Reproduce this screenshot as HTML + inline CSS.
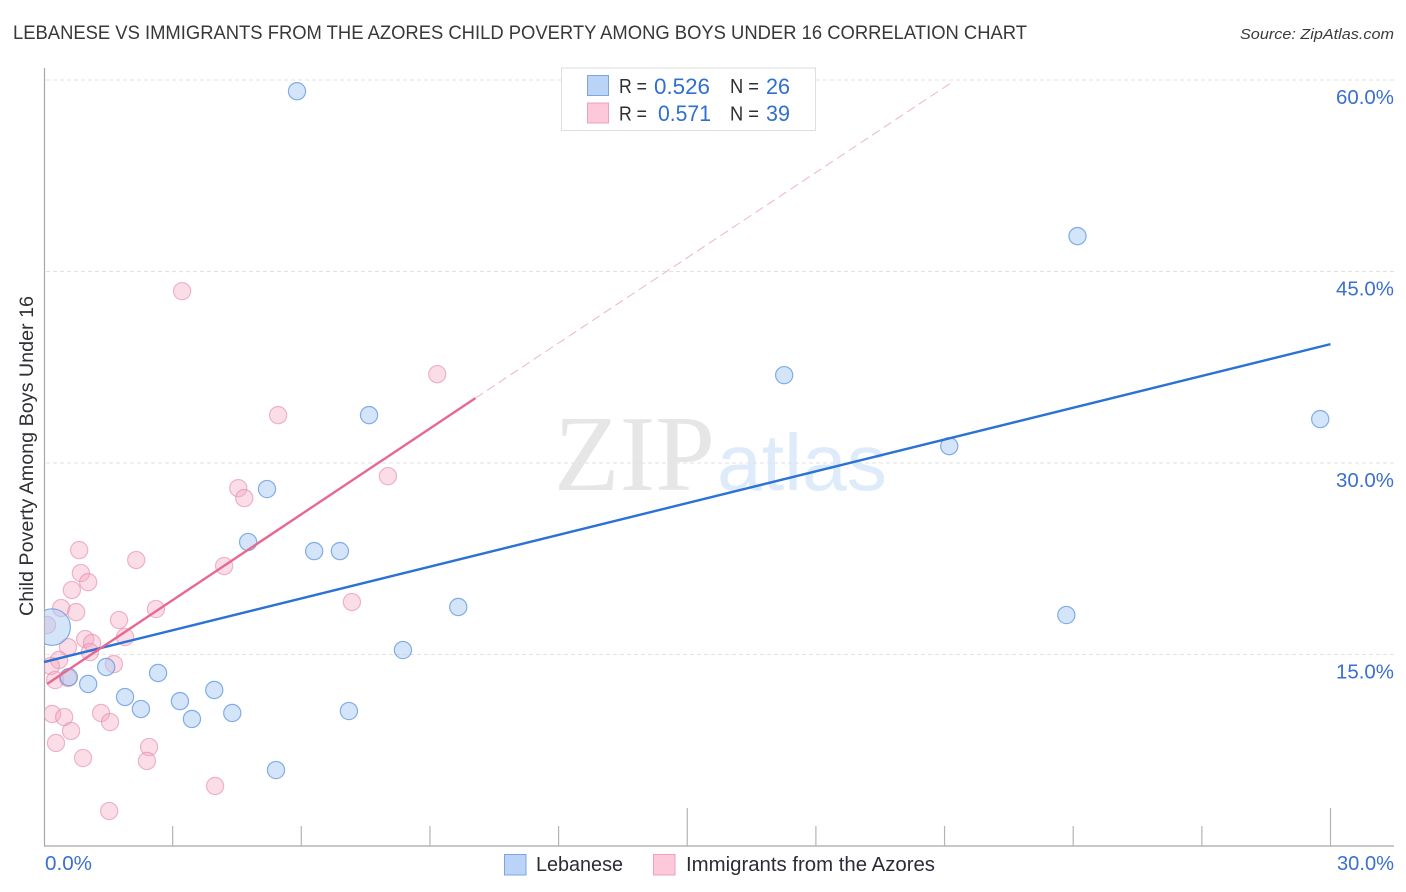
<!DOCTYPE html>
<html lang="en">
<head>
<meta charset="utf-8">
<title>Lebanese vs Immigrants from the Azores Child Poverty Correlation Chart</title>
<style>
  html, body { margin: 0; padding: 0; background: #fff; }
  body { width: 1406px; height: 892px; overflow: hidden; }
  svg { display: block; font-family: "Liberation Sans", sans-serif; }
</style>
</head>
<body>
<svg id="chart" xmlns="http://www.w3.org/2000/svg" width="1406" height="892" viewBox="0 0 1406 892">
  <defs>
    <clipPath id="plot-clip"><rect x="44.5" y="60" width="1350" height="786"></rect></clipPath>
  </defs>
  <text x="13" y="39" font-size="19" fill="#37383c" textLength="1014" lengthAdjust="spacingAndGlyphs">LEBANESE VS IMMIGRANTS FROM THE AZORES CHILD POVERTY AMONG BOYS UNDER 16 CORRELATION CHART</text>
  <text x="1394" y="39" font-size="15" font-style="italic" fill="#3a3a3f" text-anchor="end" textLength="154" lengthAdjust="spacingAndGlyphs">Source: ZipAtlas.com</text>

  <g>
    <text x="554" y="490" font-family="'Liberation Serif', serif" font-size="108" fill="#e6e6e6" textLength="161" lengthAdjust="spacingAndGlyphs">ZIP</text>
    <text x="717" y="490" font-size="80" fill="#deebfa" textLength="170" lengthAdjust="spacingAndGlyphs">atlas</text>
  </g>

  <g id="grid"></g>
  <g id="axes"></g>
  <g id="points" clip-path="url(#plot-clip)"></g>
  <g id="trends"></g>

  <text transform="translate(33,456) rotate(-90)" font-size="19" fill="#2f3034" text-anchor="middle" textLength="320" lengthAdjust="spacingAndGlyphs">Child Poverty Among Boys Under 16</text>

  <g>
    <rect x="561.5" y="68" width="254" height="62.5" fill="#fff" stroke="#dedede" stroke-width="1"></rect>
    <rect x="587.5" y="75.5" width="21" height="20" fill="#b9d4f7" stroke="#7da7dc" stroke-width="1"></rect>
    <rect x="587.5" y="103" width="21" height="20" fill="#fdc8da" stroke="#efa0bb" stroke-width="1"></rect>
    <text x="619" y="93" font-size="20" fill="#2f3034" textLength="28" lengthAdjust="spacingAndGlyphs">R =</text>
    <text x="654" y="94" font-size="22" fill="#2f6fce" textLength="56" lengthAdjust="spacingAndGlyphs">0.526</text>
    <text x="730" y="93" font-size="20" fill="#2f3034" textLength="29" lengthAdjust="spacingAndGlyphs">N =</text>
    <text x="766" y="94" font-size="22" fill="#2f6fce" textLength="24" lengthAdjust="spacingAndGlyphs">26</text>
    <text x="619" y="120.5" font-size="20" fill="#2f3034" textLength="28" lengthAdjust="spacingAndGlyphs">R =</text>
    <text x="658" y="121" font-size="22" fill="#2f6fce" textLength="53" lengthAdjust="spacingAndGlyphs">0.571</text>
    <text x="730" y="120.5" font-size="20" fill="#2f3034" textLength="29" lengthAdjust="spacingAndGlyphs">N =</text>
    <text x="766" y="121" font-size="22" fill="#2f6fce" textLength="24" lengthAdjust="spacingAndGlyphs">39</text>
  </g>

  <g>
    <rect x="504.5" y="854.5" width="21.5" height="20.5" fill="#b9d4f7" stroke="#7da7dc" stroke-width="1"></rect>
    <text x="536" y="871" font-size="20" fill="#2c2c38" textLength="87" lengthAdjust="spacingAndGlyphs">Lebanese</text>
    <rect x="653.5" y="854.5" width="21.5" height="20.5" fill="#fdc8da" stroke="#efa0bb" stroke-width="1"></rect>
    <text x="686" y="871" font-size="20" fill="#2c2c38" textLength="249" lengthAdjust="spacingAndGlyphs">Immigrants from the Azores</text>
  </g>
</svg>

<script>
// Axis tick data
const xTickValues = [0, 3, 6, 9, 12, 15, 18, 21, 24, 27, 30];
const xMajorTicks = [15, 30];
const xTickLabels = ["0.0%", "30.0%"];
const yTickValues = [15, 30, 45, 60];
const yTickLabels = ["15.0%", "30.0%", "45.0%", "60.0%"];

// Lebanese series (percent values)
const lebaneseX = [5.90, 24.10, 17.26, 29.76, 21.11, 7.58, 5.20, 4.76, 6.30, 6.90, 9.66, 23.84, 8.37, 1.45, 2.66, 0.58, 1.03, 1.89, 2.26, 3.17, 3.97, 3.45, 4.39, 7.11, 5.41, 0.19];
const lebaneseY = [59.12, 47.77, 36.88, 33.44, 31.32, 33.75, 27.96, 23.81, 23.10, 23.10, 18.72, 18.09, 15.35, 14.02, 13.55, 13.23, 12.69, 11.67, 10.73, 11.35, 12.22, 9.95, 10.42, 10.57, 5.95, 17.15];
const lebaneseWeight = [1, 1, 1, 1, 1, 1, 1, 1, 1, 1, 1, 1, 1, 1, 1, 1, 1, 1, 1, 1, 1, 1, 1, 1, 1, 4.5];

// Immigrants from the Azores series
const azoresX = [3.22, 9.17, 5.46, 8.02, 4.53, 4.67, 0.82, 2.15, 4.20, 0.86, 1.03, 0.65, 0.40, 0.75, 2.61, 7.18, 1.75, 0.07, 0.96, 1.12, 1.89, 0.56, 1.07, 0.35, 1.63, 0.16, 0.26, 0.56, 0.19, 0.47, 1.33, 1.54, 0.63, 0.28, 0.91, 2.45, 2.40, 3.99, 1.52];
const azoresY = [43.46, 36.96, 33.75, 28.97, 28.03, 27.25, 23.18, 22.40, 21.93, 21.38, 20.67, 20.05, 18.64, 18.32, 18.56, 19.11, 17.70, 17.31, 16.21, 15.90, 16.37, 15.58, 15.19, 14.57, 14.25, 14.10, 13.00, 13.16, 10.34, 10.10, 10.42, 9.71, 9.01, 8.07, 6.89, 7.75, 6.66, 4.70, 2.74];

// Trend lines: [x, y] endpoints in percent
const lebaneseTrendX = [0, 30];
const lebaneseTrendY = [14.41, 39.31];
const azoresTrendX = [0.07, 10.06];
const azoresTrendY = [12.69, 35.08];
const azoresExtensionX = [10.06, 21.14];
const azoresExtensionY = [35.08, 59.75];

const NS = 'http://www.w3.org/2000/svg';
const sx = v => 44 + v * (1330.5 - 44) / 30;
const sy = v => 846 - v * (846 - 80) / 60;

function make(parent, tag, attrs) {
  const el = document.createElementNS(NS, tag);
  for (const k in attrs) el.setAttribute(k, attrs[k]);
  parent.appendChild(el);
  return el;
}

const grid = document.getElementById('grid');
const axes = document.getElementById('axes');
const points = document.getElementById('points');
const trends = document.getElementById('trends');

yTickValues.forEach((v, i) => {
  const line = make(grid, 'line', { x1: 46, x2: 1394, y1: sy(v), y2: sy(v), stroke: '#e2e2e2', 'stroke-width': 1, 'stroke-dasharray': '4 3' });
  
  
  const label = make(axes, 'text', { x: 1394, y: sy(v) + 24, 'font-size': 20, fill: '#3b6fd0', 'text-anchor': 'end', textLength: 58, lengthAdjust: 'spacingAndGlyphs' });
  label.textContent = yTickLabels[i];
  
  
});

const yAxis = make(axes, 'line', { x1: 44.5, x2: 44.5, y1: 68, y2: 846, stroke: '#a8a8a8', 'stroke-width': 1.2 });


const xAxis = make(axes, 'line', { x1: 44, x2: 1394, y1: 846, y2: 846, stroke: '#a8a8a8', 'stroke-width': 1.2 });



xTickValues.forEach(v => {
  if (v === 0) return;
  const top = xMajorTicks.includes(v) ? 808 : 826;
  const tick = make(axes, 'line', { x1: sx(v), x2: sx(v), y1: top, y2: 846, stroke: '#b4b4b4', 'stroke-width': 1.2 });
  
  
});

const xLabelMin = make(axes, 'text', { x: 45, y: 870, 'font-size': 20, fill: '#3b6fd0', textLength: 47, lengthAdjust: 'spacingAndGlyphs' });
xLabelMin.textContent = xTickLabels[0];


const xLabelMax = make(axes, 'text', { x: 1394, y: 870, 'font-size': 20, fill: '#3b6fd0', 'text-anchor': 'end', textLength: 57, lengthAdjust: 'spacingAndGlyphs' });
xLabelMax.textContent = xTickLabels[1];



azoresX.forEach((v, i) => {
  const dot = make(points, 'circle', { cx: sx(v), cy: sy(azoresY[i]), r: 8.6, fill: '#f4a6c0', 'fill-opacity': 0.38, stroke: '#e58aa8', 'stroke-opacity': 0.6, 'stroke-width': 1.2 });
  
  
});

lebaneseX.forEach((v, i) => {
  const dot = make(points, 'circle', { cx: sx(v), cy: sy(lebaneseY[i]), r: 8.6 * Math.sqrt(lebaneseWeight[i]), fill: '#a9ccf5', 'fill-opacity': 0.5, stroke: '#5f95dc', 'stroke-opacity': 0.75, 'stroke-width': 1.2 });
  
  
});

const extension = make(trends, 'line', { x1: sx(azoresExtensionX[0]), y1: sy(azoresExtensionY[0]), x2: sx(azoresExtensionX[1]), y2: sy(azoresExtensionY[1]), stroke: '#eeb4c8', 'stroke-width': 1, 'stroke-dasharray': '9 5' });



const lebTrend = make(trends, 'line', { x1: sx(lebaneseTrendX[0]), y1: sy(lebaneseTrendY[0]), x2: sx(lebaneseTrendX[1]), y2: sy(lebaneseTrendY[1]), stroke: '#2a72d4', 'stroke-width': 2.4 });



const azTrend = make(trends, 'line', { x1: sx(azoresTrendX[0]), y1: sy(azoresTrendY[0]), x2: sx(azoresTrendX[1]), y2: sy(azoresTrendY[1]), stroke: '#e8688f', 'stroke-width': 2.4 });


</script>
</body>
</html>
